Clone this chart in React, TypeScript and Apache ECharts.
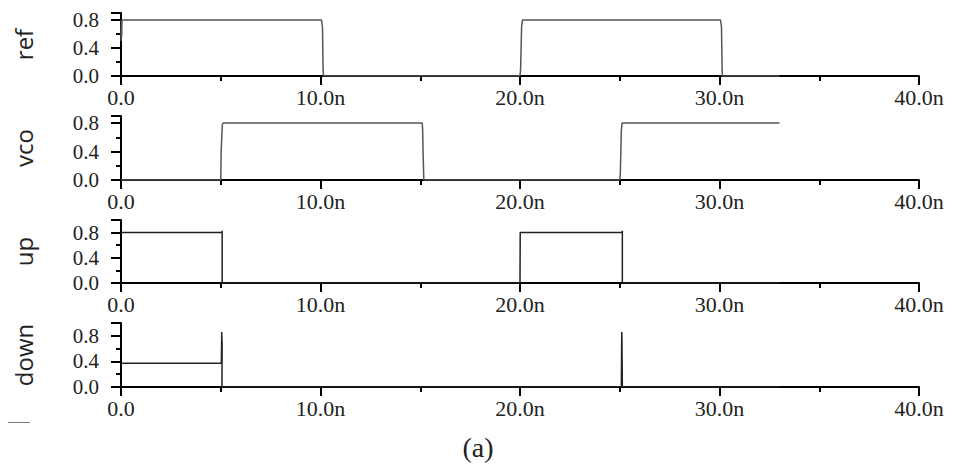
import React, { useEffect, useRef } from "react";
import * as echarts from "echarts";

// Time axis (ns)
const T_MIN = 0;
const T_MAX = 40;
const T_STEP = 10;

// Signal names, top to bottom
const signalNames = ["ref", "vco", "up", "down"];
// Upper limit of each voltage axis (V)
const yMaxes = [0.9, 0.9, 1.0, 1.0];
// Voltage tick labels
const yTickLabels = [0, 0.4, 0.8];

// Waveforms as [time (ns), voltage (V)]
const refWave: [number, number][] = [
  [0, 0.5], [0.02, 0.8], [0.03, 0.55], [0.05, 0.8],
  [10.05, 0.8], [10.1, 0.7], [10.13, 0.1], [10.15, 0],
  [20.0, 0], [20.03, 0.1], [20.08, 0.7], [20.12, 0.8],
  [30.05, 0.8], [30.1, 0.7], [30.13, 0.1], [30.15, 0],
  [33, 0],
];
const vcoWave: [number, number][] = [
  [0, 0], [5.0, 0], [5.02, 0.4], [5.08, 0.78], [5.12, 0.8],
  [15.1, 0.8], [15.12, 0.7], [15.15, 0.3], [15.18, 0],
  [25.0, 0], [25.03, 0.1], [25.08, 0.7], [25.12, 0.8],
  [33, 0.8],
];
const upWave: [number, number][] = [
  [0, 0.8], [5.06, 0.8], [5.07, 0.83], [5.07, 0],
  [20.0, 0], [20.01, 0.8], [25.12, 0.8], [25.13, 0.83], [25.13, 0],
  [33, 0],
];
const downWave: [number, number][] = [
  [0, 0.37], [5.03, 0.37], [5.05, 0.86], [5.06, 0.71], [5.03, 0.38],
  [5.07, 0.7], [5.06, 0],
  [25.08, 0], [25.1, 0.86], [25.11, 0.72], [25.13, 0.05], [25.12, 0],
  [33, 0],
];

const waves = [refWave, vcoWave, upWave, downWave];

// Layout of the stacked panels
const gridTops = [13, 116, 220, 323];
const gridHeights = [63, 64, 63, 64];
const lineColors = ["#555", "#555", "#222", "#222"];

const serif = "Liberation Serif";
const sans = "Open Sans";

export default function App() {
  const ref = useRef<HTMLDivElement>(null);

  useEffect(() => {
    if (!ref.current) return;
    const chart = echarts.init(ref.current, undefined, { renderer: "svg" });

    const grid = gridTops.map((top, i) => ({
      left: 121,
      right: 38,
      top,
      height: gridHeights[i],
      containLabel: false,
      outerBoundsMode: "none",
    }));

    const xAxis = signalNames.map((_, i) => ({
      type: "value" as const,
      gridIndex: i,
      min: T_MIN,
      max: T_MAX,
      interval: T_STEP,
      position: "bottom" as const,
      axisLine: { onZero: false, lineStyle: { color: "#000", width: 2 } },
      axisTick: { show: true, length: 9, lineStyle: { color: "#000", width: 2 } },
      minorTick: { show: true, splitNumber: 2, length: 5, lineStyle: { color: "#000", width: 2 } },
      splitLine: { show: false },
      minorSplitLine: { show: false },
      axisLabel: {
        margin: 10,
        color: "#222",
        fontFamily: serif,
        fontSize: 22,
        formatter: (v: number) => (v === 0 ? "0.0" : v.toFixed(1) + "n"),
      },
    }));

    const yAxis = signalNames.map((name, i) => ({
      type: "value" as const,
      gridIndex: i,
      min: 0,
      max: yMaxes[i],
      interval: 0.4,
      name,
      nameLocation: "middle" as const,
      nameRotate: 90,
      nameGap: 86,
      nameTextStyle: { fontFamily: sans, fontSize: 24, color: "#222" },
      axisLine: { show: true, lineStyle: { color: "#000", width: 2 } },
      axisTick: { show: true, length: 10, lineStyle: { color: "#000", width: 2 } },
      minorTick: { show: true, splitNumber: 2, length: 5, lineStyle: { color: "#000", width: 2 } },
      splitLine: { show: false },
      minorSplitLine: { show: false },
      axisLabel: {
        margin: 22,
        color: "#222",
        fontFamily: serif,
        fontSize: 21,
        showMaxLabel: false,
        formatter: (v: number) =>
          yTickLabels.some((t) => Math.abs(t - v) < 1e-6) ? v.toFixed(1) : "",
      },
    }));

    const series = waves.map((data, i) => ({
      type: "line" as const,
      name: signalNames[i],
      xAxisIndex: i,
      yAxisIndex: i,
      data,
      showSymbol: false,
      symbol: "none",
      z: 5,
      lineStyle: { color: lineColors[i], width: 1.5 },
    }));

    chart.setOption({
      animation: false,
      backgroundColor: "#fff",
      grid,
      xAxis,
      yAxis,
      series,
      graphic: [
        {
          type: "text",
          x: 478,
          y: 447,
          style: {
            text: "(a)",
            font: `28px ${serif}`,
            fill: "#222",
            textAlign: "center",
            textVerticalAlign: "middle",
          },
        },
      ],
    });

    return () => chart.dispose();
  }, []);

  return (
    <div style={{ position: "absolute", left: 0, top: 0, width: 957, height: 464 }}>
      <div ref={ref} style={{ width: 957, height: 464 }} />
      {/* short rule at the lower left */}
      <div
        style={{
          position: "absolute",
          left: 8,
          top: 422,
          width: 22,
          height: 0,
          borderTop: "1.5px solid #777",
        }}
      />
    </div>
  );
}
